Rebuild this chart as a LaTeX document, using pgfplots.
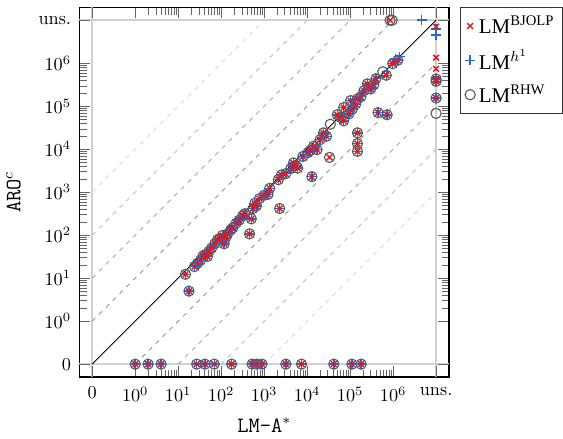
\documentclass[border=0pt]{standalone}
\usepackage{fontspec}
\usepackage{pgfplots}
\pgfplotsset{compat=1.18}
\usepackage{pgfplotstable}
\newfontfamily\legfont{Liberation Serif}
\definecolor{xred}{RGB}{220,25,30}
\definecolor{pblue}{RGB}{35,105,210}

% points shared by all three heuristics (0 is plotted at 0.1, uns. at 1e7)
\pgfplotstableread{
x y
14.8 12.3
17.8 5
24 18.6
28 22
33 26
38 33
42 35
48 32
52 42
60 50
71 63
83 79
93 83
107 98
117 63
129 89
141 107
166 132
186 148
224 191
263 224
316 282
355 316
457 107
501 240
550 417
603 550
661 479
776 708
1000 851
1230 891
1349 1230
2138 1950
2291 417
2512 2512
3162 2692
4169 3548
4786 4786
5495 4169
6026 3631
7943 6761
10470 8318
11750 9333
12880 2291
14130 11750
16980 9772
19950 16600
23990 23990
28180 19950
50120 63100
60260 54950
70790 45710
70790 93330
93330 66070
102300 134900
112200 85110
134900 112200
147900 147900
147900 23990
147900 13490
147900 8913
177800 166000
208900 229100
251200 331100
302000 251200
354800 316200
398100 436500
446700 70790
724400 63100
691800 524800
977200 977200
1288000 1175000
1 0.1
2 0.1
4 0.1
27 0.1
42 0.1
69 0.1
175 0.1
525 0.1
680 0.1
890 0.1
3200 0.1
7400 0.1
41700 0.1
110000 0.1
180000 0.1
10000000 430000
10000000 380000
10000000 155000
}\base

\begin{document}
\begin{tikzpicture}
\begin{axis}[
    scale only axis,
    width=203pt, height=203pt,
    xmode=log, ymode=log,
    xmin=0.05, xmax=2e7, ymin=0.05, ymax=2e7,
    xtick={1,10,100,1000,10000,100000,1000000},
    ytick={1,10,100,1000,10000,100000,1000000},
    minor xtick={2,3,4,5,6,7,8,9,20,30,40,50,60,70,80,90,200,300,400,500,600,700,800,900,2000,3000,4000,5000,6000,7000,8000,9000,2e4,3e4,4e4,5e4,6e4,7e4,8e4,9e4,2e5,3e5,4e5,5e5,6e5,7e5,8e5,9e5},
    minor ytick={2,3,4,5,6,7,8,9,20,30,40,50,60,70,80,90,200,300,400,500,600,700,800,900,2000,3000,4000,5000,6000,7000,8000,9000,2e4,3e4,4e4,5e4,6e4,7e4,8e4,9e4,2e5,3e5,4e5,5e5,6e5,7e5,8e5,9e5},
    extra x ticks={0.1,1e7}, extra x tick labels={$0$,uns.},
    extra y ticks={0.1,1e7}, extra y tick labels={$0$,uns.},
    extra tick style={grid=major, major grid style={black!18, line width=0.8pt}},
    tick style={black!60},
    major tick length=6pt, minor tick length=4pt,
    axis line style={line width=0.8pt},
    xticklabel shift=2pt, yticklabel shift=1pt,
    label style={font=\large},
    xlabel={\texttt{LM-A}$^*$},
    ylabel={\texttt{ARO}$^c$},
    ylabel shift=2pt,
    xlabel shift=-2pt,
    reverse legend,
    legend cell align=left,
    legend style={at={(1.03,1)}, anchor=north west, draw=black!80,
        font=\legfont\fontsize{11.5}{14}\selectfont, inner sep=2.5pt,
        row sep=3pt},
]
% reference lines y = 10^k x
\addplot[forget plot, black!18, dash pattern=on 2.5pt off 2.8pt] coordinates {(0.1,1000) (1000,1e7)};
\addplot[forget plot, black!30, dash pattern=on 2.5pt off 2.8pt] coordinates {(0.1,100) (10000,1e7)};
\addplot[forget plot, black!40, dash pattern=on 2.5pt off 2.8pt] coordinates {(0.1,10) (100000,1e7)};
\addplot[forget plot, black!50, dash pattern=on 2.5pt off 2.8pt] coordinates {(0.1,1) (1000000,1e7)};
\addplot[forget plot, black!50, dash pattern=on 2.5pt off 2.8pt] coordinates {(1,0.1) (1e7,1000000)};
\addplot[forget plot, black!40, dash pattern=on 2.5pt off 2.8pt] coordinates {(10,0.1) (1e7,100000)};
\addplot[forget plot, black!30, dash pattern=on 2.5pt off 2.8pt] coordinates {(100,0.1) (1e7,10000)};
\addplot[forget plot, black!18, dash pattern=on 2.5pt off 2.8pt] coordinates {(1000,0.1) (1e7,1000)};
\addplot[forget plot, black, line width=0.5pt] coordinates {(0.1,0.1) (1e7,1e7)};

% RHW
\addplot[only marks, mark=o, mark size=2.8pt, black!65, mark options={line width=0.6pt}] table {\base};
\addlegendentry{LM\textsuperscript{RHW}}
\addplot[forget plot, only marks, mark=o, mark size=2.8pt, black!65, mark options={line width=0.6pt}] coordinates {
(34670,38020) (575400,631000) (33110,6457) (10000000,68000) (850000,10000000) (950000,10000000)
};
% h^1
\addplot[only marks, mark=+, mark size=2.7pt, pblue, mark options={line width=0.8pt}] table {\base};
\addlegendentry{LM$^{h^1}$}
\addplot[forget plot, only marks, mark=+, mark size=2.7pt, pblue, mark options={line width=0.8pt}] coordinates {
(1413000,1413000) (1122000,1259000) (3311,2818) (10000000,6300000) (10000000,4500000) (4600000,10000000)
};
% BJOLP
\addplot[only marks, mark=x, mark size=2.2pt, xred, mark options={line width=0.8pt}] table {\base};
\addlegendentry{LM\textsuperscript{BJOLP}}
\addplot[forget plot, only marks, mark=x, mark size=2.2pt, xred, mark options={line width=0.8pt}] coordinates {
(33110,6457) (955000,1000000) (10000000,7100000) (10000000,1350000) (10000000,740000) (850000,10000000)
};
\end{axis}
\path (current axis.north) +(0,4pt);
\end{tikzpicture}
\end{document}
